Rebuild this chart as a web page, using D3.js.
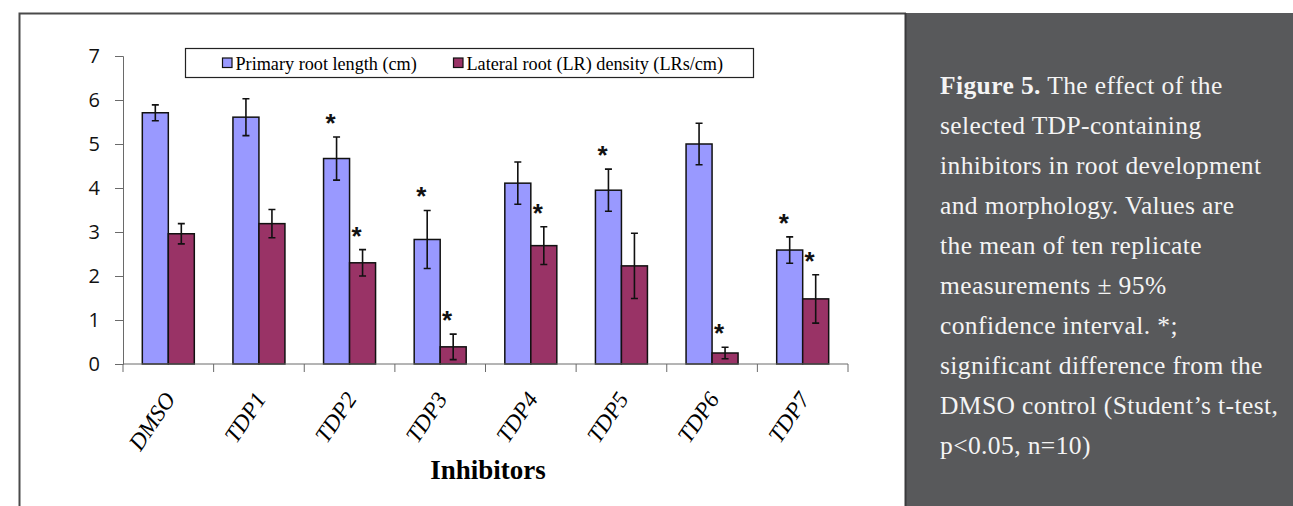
<!DOCTYPE html>
<html>
<head>
<meta charset="utf-8">
<script src="https://cdn.jsdelivr.net/npm/d3@7/dist/d3.min.js"></script>
<style>
  html, body { margin: 0; padding: 0; background: #ffffff; }
  svg { display: block; }
</style>
</head>
<body>
<svg id="chart" width="1293" height="506"></svg>
<script>
// Treatments along the x axis
const categories = ["DMSO", "TDP1", "TDP2", "TDP3", "TDP4", "TDP5", "TDP6", "TDP7"];
const seriesNames = ["Primary root length (cm)", "Lateral root (LR) density (LRs/cm)"];

// Means and 95% confidence half-widths
const primaryLength = [5.71, 5.61, 4.67, 2.83, 4.11, 3.95, 5.00, 2.59];
const primaryCI     = [0.18, 0.42, 0.49, 0.66, 0.48, 0.48, 0.47, 0.30];
const lateralDensity = [2.96, 3.19, 2.30, 0.39, 2.69, 2.23, 0.25, 1.48];
const lateralCI      = [0.23, 0.32, 0.30, 0.29, 0.43, 0.74, 0.13, 0.55];

// Significance markers (Student's t-test vs DMSO)
const primarySig = [false, false, true, true, false, true, false, true];
const lateralSig = [false, false, true, true, true, false, true, true];

const yTicks = [0, 1, 2, 3, 4, 5, 6, 7];

const captionLines = [
  ["Figure 5.", " The effect of the"],
  ["", "selected TDP-containing"],
  ["", "inhibitors in root development"],
  ["", "and morphology. Values are"],
  ["", "the mean of ten replicate"],
  ["", "measurements \u00B1 95%"],
  ["", "confidence interval. *;"],
  ["", "significant difference from the"],
  ["", "DMSO control (Student\u2019s t-test,"],
  ["", "p<0.05, n=10)"]
];

const colors = ["#9999ff", "#993366"];

const svg = d3.select("#chart");

// Outer frame of the chart area
svg.append("rect").attr("x", 0).attr("y", 0).attr("width", 1293).attr("height", 506).attr("fill", "#ffffff");
svg.append("path")
  .attr("d", "M19.5,506 V13.5 H906")
  .attr("fill", "none").attr("stroke", "#4a4a4a").attr("stroke-width", 2);

// Caption panel
svg.append("rect").attr("x", 905).attr("y", 13).attr("width", 388).attr("height", 493).attr("fill", "#58595b");
svg.append("line").attr("x1", 905.5).attr("x2", 905.5).attr("y1", 13).attr("y2", 506)
  .attr("stroke", "#3a3a3c").attr("stroke-width", 2);

const cap = svg.append("g")
  .attr("font-family", "'Liberation Serif', 'Times New Roman', serif")
  .attr("font-size", 25.5)
  .attr("letter-spacing", 0.4)
  .attr("fill", "#f4f4f4");
captionLines.forEach((ln, i) => {
  const t = cap.append("text").attr("x", 940).attr("y", 94 + i * 40);
  if (ln[0]) t.append("tspan").attr("font-weight", "bold").text(ln[0]);
  t.append("tspan").text(ln[1]);
});

// Plot geometry
const x0 = d3.scaleBand().domain(categories).range([123, 848]).paddingInner(0).paddingOuter(0);
const x1 = d3.scaleBand().domain([0, 1]).range([0, x0.bandwidth()]).paddingInner(0).paddingOuter(0.743);
const y = d3.scaleLinear().domain([0, 7]).range([364, 56]);

const series = [
  { values: primaryLength, ci: primaryCI, sig: primarySig },
  { values: lateralDensity, ci: lateralCI, sig: lateralSig }
];

// Bars
series.forEach((s, si) => {
  svg.append("g").selectAll("rect")
    .data(categories)
    .join("rect")
    .attr("x", (c) => x0(c) + x1(si))
    .attr("y", (c, i) => y(s.values[i]))
    .attr("width", x1.bandwidth())
    .attr("height", (c, i) => y(0) - y(s.values[i]))
    .attr("fill", colors[si])
    .attr("stroke", "#111111")
    .attr("stroke-width", 1.5);
});

// Axes
const yAxis = d3.axisLeft(y).tickValues(yTicks).tickFormat(d3.format("d")).tickSize(8).tickPadding(15);
const gy = svg.append("g").attr("transform", "translate(123,0)").call(yAxis);
gy.select(".domain").attr("stroke", "#6a6a6a");
gy.selectAll(".tick line").attr("stroke", "#6a6a6a");
gy.selectAll(".tick text")
  .attr("font-family", "'Open Sans', sans-serif")
  .attr("font-size", 20)
  .attr("fill", "#111111");

const gx = svg.append("g").attr("transform", "translate(0,364)");
gx.append("line").attr("x1", 123).attr("x2", 848).attr("stroke", "#6a6a6a");
const boundaries = categories.map((c) => x0(c)).concat([x0(categories[categories.length - 1]) + x0.step()]);
gx.selectAll("line.tk").data(boundaries).join("line").attr("class", "tk")
  .attr("x1", (d) => d).attr("x2", (d) => d).attr("y1", 0).attr("y2", 8)
  .attr("stroke", "#6a6a6a");

// Error bars
series.forEach((s, si) => {
  const g = svg.append("g").attr("stroke", "#111111").attr("stroke-width", 1.6).attr("fill", "none");
  categories.forEach((c, i) => {
    const cx = x0(c) + x1(si) + x1.bandwidth() / 2;
    const top = y(s.values[i] + s.ci[i]);
    const bot = y(s.values[i] - s.ci[i]);
    g.append("path").attr("d", `M${cx},${top}V${bot}M${cx - 3.5},${top}H${cx + 3.5}M${cx - 3.5},${bot}H${cx + 3.5}`);
  });
});

// Significance asterisks
series.forEach((s, si) => {
  svg.append("g").selectAll("text")
    .data(categories.filter((c, i) => s.sig[i]))
    .join("text")
    .attr("x", (c) => x0(c) + x1(si) + x1.bandwidth() / 2 - 6)
    .attr("y", (c) => { const i = categories.indexOf(c); return y(s.values[i] + s.ci[i]) - 19 + 14; })
    .attr("text-anchor", "middle")
    .attr("font-family", "'Liberation Sans', Arial, sans-serif")
    .attr("font-weight", "bold")
    .attr("font-size", 26)
    .attr("fill", "#111111")
    .text("*");
});

// Category labels
svg.append("g").selectAll("text")
  .data(categories)
  .join("text")
  .attr("transform", (c) => `translate(${x0(c) + x0.bandwidth() / 2 + 8},399) rotate(-56)`)
  .attr("text-anchor", "end")
  .attr("font-family", "'Liberation Serif', 'Times New Roman', serif")
  .attr("font-style", "italic")
  .attr("font-size", 23)
  .attr("fill", "#000000")
  .text((c) => c);

// Axis title
svg.append("text")
  .attr("x", 488).attr("y", 479)
  .attr("text-anchor", "middle")
  .attr("font-family", "'Liberation Serif', 'Times New Roman', serif")
  .attr("font-weight", "bold")
  .attr("font-size", 27)
  .attr("fill", "#000000")
  .text("Inhibitors");

// Legend
const lg = svg.append("g");
lg.append("rect").attr("x", 185.5).attr("y", 48.5).attr("width", 568).attr("height", 29)
  .attr("fill", "#ffffff").attr("stroke", "#222222").attr("stroke-width", 1.2);
const legendX = [222, 453];
seriesNames.forEach((name, si) => {
  lg.append("rect").attr("x", legendX[si] + 0.5).attr("y", 58).attr("width", 9.5).attr("height", 9.5)
    .attr("fill", colors[si]).attr("stroke", "#111111").attr("stroke-width", 1.2);
  lg.append("text").attr("x", legendX[si] + 13.5).attr("y", 70)
    .attr("font-family", "'Liberation Serif', 'Times New Roman', serif")
    .attr("font-size", 18.2)
    .attr("fill", "#000000")
    .text(name);
});
</script>
</body>
</html>
